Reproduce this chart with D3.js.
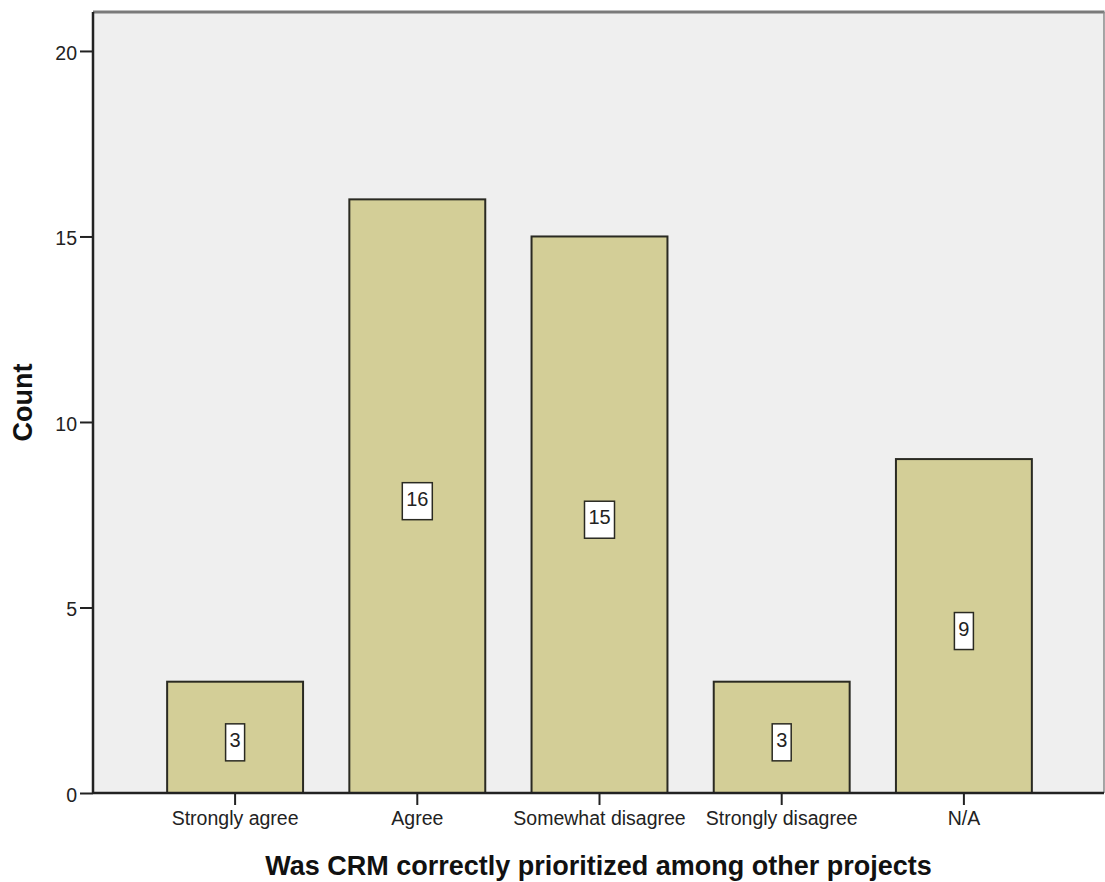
<!DOCTYPE html>
<html>
<head>
<meta charset="utf-8">
<script src="https://cdn.jsdelivr.net/npm/d3@7"></script>
<style>
  html, body { margin: 0; padding: 0; background: #fff; }
  svg { display: block; }
</style>
</head>
<body>
<svg id="chart" width="1105" height="882"></svg>
<script>
// Survey responses: "Was CRM correctly prioritized among other projects"
const categories = ["Strongly agree", "Agree", "Somewhat disagree", "Strongly disagree", "N/A"];
const counts = [3, 16, 15, 3, 9];
const yTicks = [0, 5, 10, 15, 20];
const xTitle = "Was CRM correctly prioritized among other projects";
const yTitle = "Count";

const svg = d3.select("#chart");
const FONT = "'Liberation Sans', Arial, sans-serif";

// plot frame
const frame = { left: 93, right: 1104, top: 12, bottom: 793 };

const y = d3.scaleLinear()
  .domain([0, 21.05])
  .range([frame.bottom, frame.top]);

const x = d3.scaleBand()
  .domain(categories)
  .range([144, 1055])
  .paddingInner(0.254)
  .paddingOuter(0.127);

// background panel
svg.append("rect")
  .attr("x", frame.left).attr("y", frame.top)
  .attr("width", frame.right - frame.left)
  .attr("height", frame.bottom - frame.top)
  .attr("fill", "#efefef");

// top / right border of the panel
svg.append("line")
  .attr("x1", frame.left).attr("x2", frame.right + 0.5)
  .attr("y1", frame.top).attr("y2", frame.top)
  .attr("stroke", "#7a7a7a").attr("stroke-width", 3);
svg.append("line")
  .attr("x1", frame.right).attr("x2", frame.right)
  .attr("y1", frame.top).attr("y2", frame.bottom)
  .attr("stroke", "#8a8a8a").attr("stroke-width", 1.5);

// bars
svg.append("g").selectAll("rect")
  .data(categories)
  .join("rect")
  .attr("x", d => x(d))
  .attr("y", (d, i) => y(counts[i]))
  .attr("width", x.bandwidth())
  .attr("height", (d, i) => y(0) - y(counts[i]))
  .attr("fill", "#d3ce97")
  .attr("stroke", "#2a2a22")
  .attr("stroke-width", 2);

// y axis
const yAxis = svg.append("g")
  .attr("transform", `translate(${frame.left},0)`)
  .call(d3.axisLeft(y).tickValues(yTicks).tickSize(13).tickPadding(3).tickFormat(d3.format("d")));
yAxis.select(".domain").attr("stroke", "#222").attr("stroke-width", 2.5)
  .attr("d", `M0,${frame.top}V${frame.bottom}`);
yAxis.selectAll(".tick line").attr("stroke", "#222").attr("stroke-width", 2);
yAxis.selectAll(".tick text")
  .attr("font-family", FONT)
  .attr("font-size", 19.5).attr("fill", "#222")
  .attr("dy", "0.42em");

// x axis
const xAxis = svg.append("g")
  .attr("transform", `translate(0,${frame.bottom})`)
  .call(d3.axisBottom(x).tickSize(12).tickPadding(6));
xAxis.select(".domain").attr("stroke", "#222").attr("stroke-width", 2.5)
  .attr("d", `M${frame.left},0H${frame.right}`);
xAxis.selectAll(".tick line").attr("stroke", "#222").attr("stroke-width", 2);
xAxis.selectAll(".tick text")
  .attr("font-family", FONT)
  .attr("font-size", 19.5).attr("fill", "#222");

// value labels in boxes
const labels = svg.append("g").selectAll("g")
  .data(categories)
  .join("g")
  .attr("transform", (d, i) => `translate(${x(d) + x.bandwidth() / 2},${(y(counts[i]) + y(0)) / 2 + 5})`);

labels.append("rect")
  .attr("x", (d, i) => String(counts[i]).length > 1 ? -15 : -9.5)
  .attr("y", -18.5)
  .attr("width", (d, i) => String(counts[i]).length > 1 ? 30 : 19)
  .attr("height", 37)
  .attr("fill", "#fff")
  .attr("stroke", "#2a2a22")
  .attr("stroke-width", 1.5);

labels.append("text")
  .attr("text-anchor", "middle")
  .attr("y", 4.5)
  .attr("font-family", FONT)
  .attr("font-size", 20)
  .attr("fill", "#222")
  .text((d, i) => counts[i]);

// axis titles
svg.append("text")
  .attr("x", (frame.left + frame.right) / 2)
  .attr("y", 875)
  .attr("text-anchor", "middle")
  .attr("font-family", FONT)
  .attr("font-weight", "bold")
  .attr("font-size", 27)
  .attr("fill", "#111")
  .text(xTitle);

svg.append("text")
  .attr("transform", `translate(32,${(frame.top + frame.bottom) / 2}) rotate(-90)`)
  .attr("text-anchor", "middle")
  .attr("font-family", FONT)
  .attr("font-weight", "bold")
  .attr("font-size", 27)
  .attr("fill", "#111")
  .text(yTitle);
</script>
</body>
</html>
